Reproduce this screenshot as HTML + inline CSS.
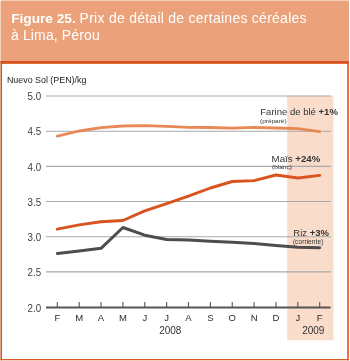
<!DOCTYPE html>
<html><head><meta charset="utf-8">
<style>
html,body{margin:0;padding:0;background:#fff;}
body{width:350px;height:361px;position:relative;overflow:hidden;font-family:"Liberation Sans",sans-serif;}
svg{position:absolute;left:0;top:0;will-change:transform;}
svg text{font-family:"Liberation Sans",sans-serif;}
</style></head><body>
<svg width="350" height="361" viewBox="0 0 350 361">
<rect x="0.5" y="0.5" width="348.5" height="60.5" fill="#EBA27A"/>
<rect x="0.45" y="61" width="1.55" height="299.3" fill="#D9531E"/>
<rect x="347.1" y="61" width="1.9" height="299.3" fill="#E36F3E"/>
<rect x="0.6" y="359" width="348.3" height="1.3" fill="#DA5A26"/>
<rect x="0.6" y="61" width="348.3" height="2.85" fill="#D9531E"/>
<g fill="#fff" font-size="14">
<text x="11.2" y="22.8" font-weight="bold" font-size="13.4" textLength="64.6" lengthAdjust="spacingAndGlyphs">Figure 25.</text>
<text x="79.6" y="22.7" textLength="227" lengthAdjust="spacing">Prix de détail de certaines céréales</text>
<text x="11" y="39.6" textLength="88.7" lengthAdjust="spacing">à Lima, Pérou</text>
</g>
<rect x="287.2" y="95.8" width="46.3" height="244.5" fill="#FADCCB"/>
<line x1="46" x2="331" y1="271.90" y2="271.90" stroke="#a9a9a9" stroke-width="1.1"/>
<line x1="46" x2="331" y1="236.72" y2="236.72" stroke="#a9a9a9" stroke-width="1.1"/>
<line x1="46" x2="331" y1="201.54" y2="201.54" stroke="#a9a9a9" stroke-width="1.1"/>
<line x1="46" x2="331" y1="166.36" y2="166.36" stroke="#a9a9a9" stroke-width="1.1"/>
<line x1="46" x2="331" y1="131.18" y2="131.18" stroke="#a9a9a9" stroke-width="1.1"/>
<line x1="46" x2="331" y1="96.00" y2="96.00" stroke="#a9a9a9" stroke-width="1.1"/>

<line x1="46" x2="330.5" y1="307.50" y2="307.50" stroke="#555" stroke-width="1.8"/>
<line x1="57.30" x2="57.30" y1="307.50" y2="302" stroke="#555" stroke-width="1.1"/>
<line x1="79.17" x2="79.17" y1="307.50" y2="302" stroke="#555" stroke-width="1.1"/>
<line x1="101.03" x2="101.03" y1="307.50" y2="302" stroke="#555" stroke-width="1.1"/>
<line x1="122.90" x2="122.90" y1="307.50" y2="302" stroke="#555" stroke-width="1.1"/>
<line x1="144.77" x2="144.77" y1="307.50" y2="302" stroke="#555" stroke-width="1.1"/>
<line x1="166.63" x2="166.63" y1="307.50" y2="302" stroke="#555" stroke-width="1.1"/>
<line x1="188.50" x2="188.50" y1="307.50" y2="302" stroke="#555" stroke-width="1.1"/>
<line x1="210.37" x2="210.37" y1="307.50" y2="302" stroke="#555" stroke-width="1.1"/>
<line x1="232.23" x2="232.23" y1="307.50" y2="302" stroke="#555" stroke-width="1.1"/>
<line x1="254.10" x2="254.10" y1="307.50" y2="302" stroke="#555" stroke-width="1.1"/>
<line x1="275.97" x2="275.97" y1="307.50" y2="302" stroke="#555" stroke-width="1.1"/>
<line x1="297.83" x2="297.83" y1="307.50" y2="302" stroke="#555" stroke-width="1.1"/>
<line x1="319.70" x2="319.70" y1="307.50" y2="302" stroke="#555" stroke-width="1.1"/>

<g font-size="10.1" fill="#404040">
<text x="27.6" y="311.80" textLength="13.6" lengthAdjust="spacingAndGlyphs">2.0</text>
<text x="27.6" y="276.20" textLength="13.6" lengthAdjust="spacingAndGlyphs">2.5</text>
<text x="27.6" y="241.02" textLength="13.6" lengthAdjust="spacingAndGlyphs">3.0</text>
<text x="27.6" y="205.84" textLength="13.6" lengthAdjust="spacingAndGlyphs">3.5</text>
<text x="27.6" y="170.66" textLength="13.6" lengthAdjust="spacingAndGlyphs">4.0</text>
<text x="27.6" y="135.48" textLength="13.6" lengthAdjust="spacingAndGlyphs">4.5</text>
<text x="27.6" y="100.30" textLength="13.6" lengthAdjust="spacingAndGlyphs">5.0</text>

</g>
<g font-size="9.5" fill="#2a2a2a">
<text x="57.30" y="320.6" text-anchor="middle">F</text>
<text x="79.17" y="320.6" text-anchor="middle">M</text>
<text x="101.03" y="320.6" text-anchor="middle">A</text>
<text x="122.90" y="320.6" text-anchor="middle">M</text>
<text x="144.77" y="320.6" text-anchor="middle">J</text>
<text x="166.63" y="320.6" text-anchor="middle">J</text>
<text x="188.50" y="320.6" text-anchor="middle">A</text>
<text x="210.37" y="320.6" text-anchor="middle">S</text>
<text x="232.23" y="320.6" text-anchor="middle">O</text>
<text x="254.10" y="320.6" text-anchor="middle">N</text>
<text x="275.97" y="320.6" text-anchor="middle">D</text>
<text x="297.83" y="320.6" text-anchor="middle">J</text>
<text x="319.70" y="320.6" text-anchor="middle">F</text>

</g>
<g font-size="10" fill="#333">
<text x="170.3" y="333.7" text-anchor="middle">2008</text>
<text x="313.3" y="333.7" text-anchor="middle">2009</text>
</g>
<text x="6.9" y="82.9" font-size="8.6" fill="#222" textLength="79.5" lengthAdjust="spacingAndGlyphs">Nuevo Sol (PEN)/kg</text>
<path d="M57.30,136.20 L79.17,131.00 L101.03,127.60 L122.90,126.00 L144.77,125.60 L166.63,126.30 L188.50,127.30 L210.37,127.50 L232.23,128.20 L254.10,127.30 L275.97,128.00 L297.83,128.60 L319.70,131.60" fill="none" stroke="#E88857" stroke-width="2.8" stroke-linejoin="round" stroke-linecap="round"/>
<path d="M57.30,229.20 L79.17,224.90 L101.03,221.80 L122.90,220.50 L144.77,210.90 L166.63,203.60 L188.50,196.20 L210.37,188.00 L232.23,181.50 L254.10,180.60 L275.97,175.00 L297.83,178.00 L319.70,175.40" fill="none" stroke="#D9531E" stroke-width="2.9" stroke-linejoin="round" stroke-linecap="round"/>
<path d="M57.30,253.40 L79.17,250.90 L101.03,248.30 L122.90,227.50 L144.77,235.20 L166.63,239.50 L188.50,240.10 L210.37,241.30 L232.23,242.20 L254.10,243.50 L275.97,245.60 L297.83,247.30 L319.70,247.80" fill="none" stroke="#4d4d4d" stroke-width="3" stroke-linejoin="round" stroke-linecap="round"/>
<g fill="#333">
<text x="260.3" y="115.1" font-size="9.3" textLength="77.6" lengthAdjust="spacingAndGlyphs">Farine de blé <tspan font-weight="bold">+1%</tspan></text>
<text x="260" y="123" font-size="6.1" textLength="26.6" lengthAdjust="spacingAndGlyphs">(préparé)</text>
<text x="271.6" y="162" font-size="9.6" textLength="48.8" lengthAdjust="spacingAndGlyphs">Maïs <tspan font-weight="bold">+24%</tspan></text>
<text x="272" y="169" font-size="6.2" textLength="19.8" lengthAdjust="spacingAndGlyphs">(blanc)</text>
<text x="293.3" y="235.5" font-size="9.5" textLength="35.6" lengthAdjust="spacingAndGlyphs">Riz <tspan font-weight="bold">+3%</tspan></text>
<text x="292.9" y="243.7" font-size="6.7">(corriente)</text>
</g>
</svg>
</body></html>
